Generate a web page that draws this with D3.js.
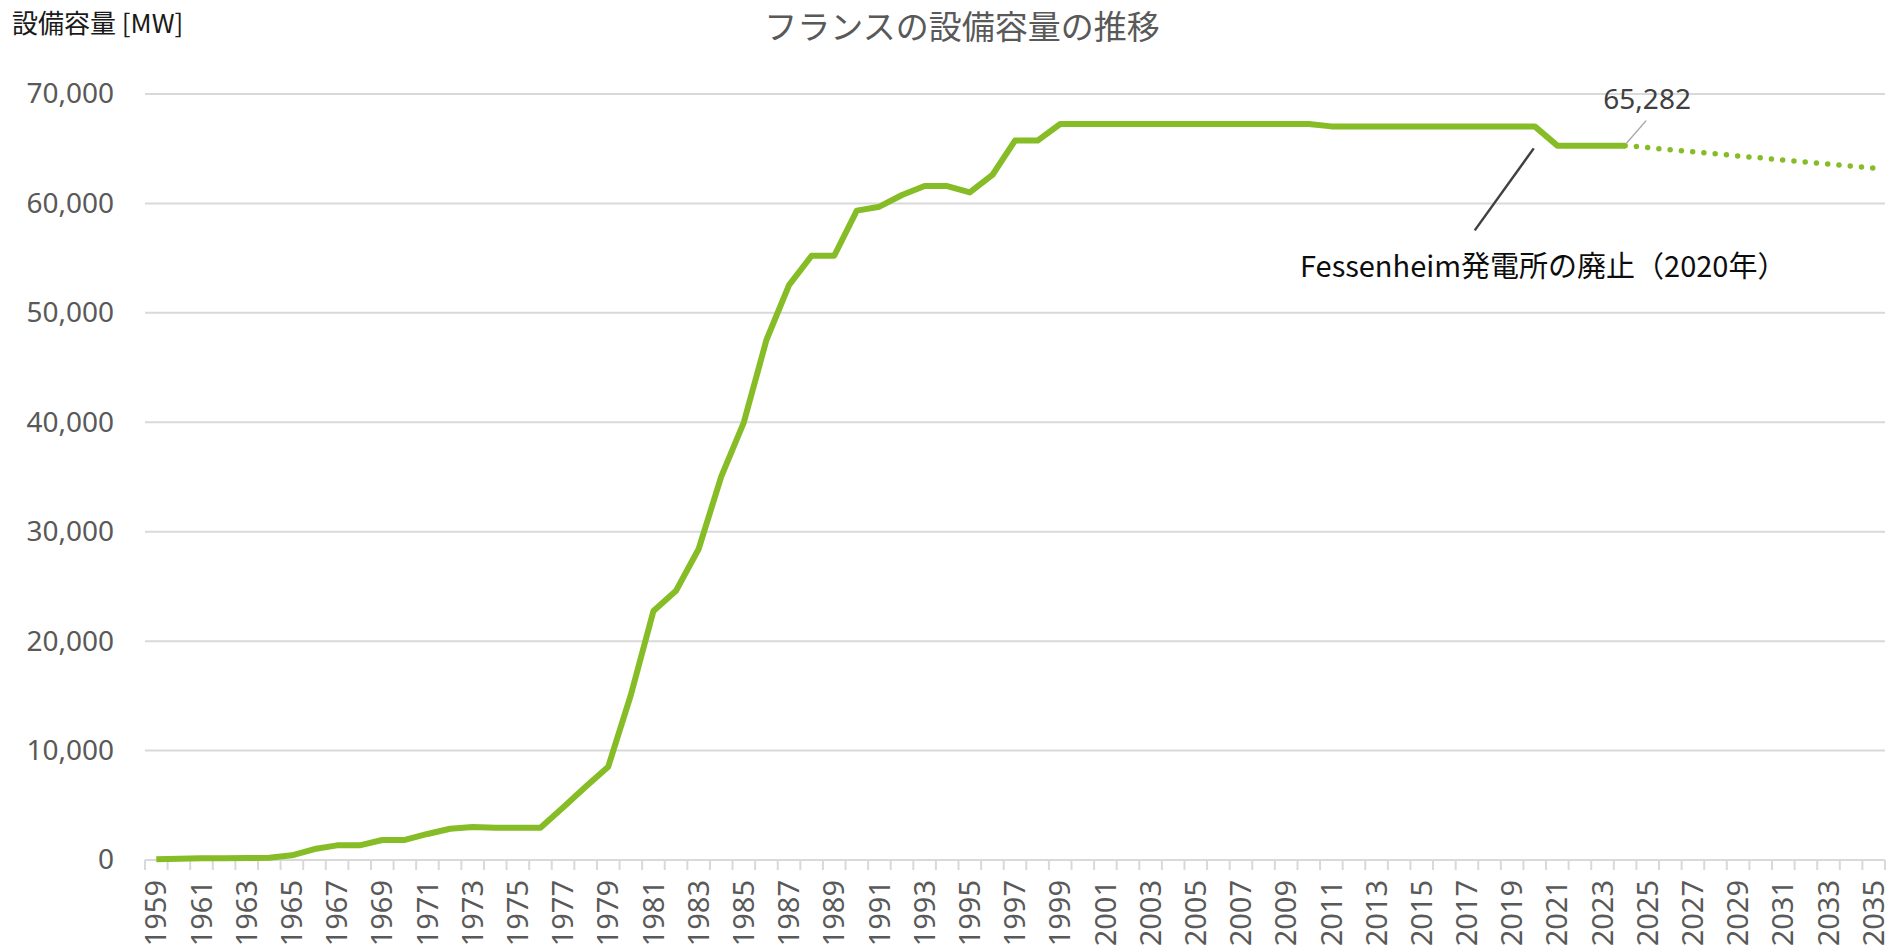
<!DOCTYPE html>
<html>
<head>
<meta charset="utf-8">
<script src="https://cdn.jsdelivr.net/npm/d3@7"></script>
<style>
  body { margin: 0; background: #fff; }
  text { font-family: "Noto Sans", "Noto Sans CJK JP", sans-serif; }
  .jp { font-family: "Noto Sans CJK JP", "Noto Sans", sans-serif; }
</style>
</head>
<body>
<svg id="chart"></svg>
<script>
//chart variables
var width = 1888;
var height = 945;
var margin = {top: 94, right: 3, bottom: 85, left: 145};

//categories: every year on the x axis
var years = d3.range(1959, 2036);

//installed capacity [MW], 1959 - 2024 (solid line)
var capacity = [70, 110, 150, 150, 180, 210, 430, 1000, 1340, 1340,
  1830, 1830, 2380, 2860, 3020, 2950, 2950, 2950, 4800, 6700,
  8530, 15080, 22750, 24610, 28420, 35030, 40000, 47520, 52540, 55220,
  55220, 59340, 59700, 60770, 61590, 61590, 61010, 62600, 65740, 65740,
  67260, 67260, 67260, 67260, 67260, 67260, 67260, 67260, 67260, 67260,
  67260, 67260, 67040, 67040, 67040, 67040, 67040, 67040, 67040, 67040,
  67040, 67040, 65282, 65282, 65282, 65282];

//projection 2024 - 2035 (dotted line)
var projYears = d3.range(2024, 2036);
var projection = [65282, 65100, 64900, 64710, 64530, 64340, 64160, 63970, 63790, 63600, 63420, 63230];

var yTicks = [0, 10000, 20000, 30000, 40000, 50000, 60000, 70000];
var xLabelYears = years.filter(function(d) { return (d - 1959) % 2 == 0; });

var title = "フランスの設備容量の推移";
var yTitle = "設備容量 [MW]";
var noteText = "Fessenheim発電所の廃止（2020年）";
var noteYear = 2020;
var lastYear = 2024;

var green = "#86bc25";

var svg = d3.select("#chart")
    .attr("width", width)
    .attr("height", height);

var x = d3.scaleBand()
    .domain(years)
    .range([margin.left, width - margin.right])
    .padding(0);

var y = d3.scaleLinear()
    .domain([0, 70000])
    .range([height - margin.bottom, margin.top]);

function cx(year) { return x(year) + x.bandwidth() / 2; }

//gridlines
svg.append("g")
  .selectAll("line")
  .data(yTicks)
  .enter().append("line")
    .attr("x1", margin.left)
    .attr("x2", width - margin.right)
    .attr("y1", function(d) { return y(d); })
    .attr("y2", function(d) { return y(d); })
    .style("stroke", "#d9d9d9")
    .style("stroke-width", 2);

//y axis labels
var yAxis = d3.axisLeft(y)
    .tickValues(yTicks)
    .tickSize(0)
    .tickPadding(0)
    .tickFormat(d3.format(","));

svg.append("g")
    .attr("transform", "translate(114,0)")
    .call(yAxis)
    .call(function(g) { g.select(".domain").remove(); })
    .selectAll("text")
      .style("font-size", "28px")
      .style("fill", "#595959");

//tick marks between categories
svg.append("g")
  .selectAll("line")
  .data(years.concat(["end"]))
  .enter().append("line")
    .attr("x1", function(d) { return d == "end" ? x.range()[1] : x(d); })
    .attr("x2", function(d) { return d == "end" ? x.range()[1] : x(d); })
    .attr("y1", y(0))
    .attr("y2", y(0) + 10)
    .style("stroke", "#d9d9d9")
    .style("stroke-width", 2);

//x axis labels (every other year, rotated)
var xAxis = d3.axisBottom(x)
    .tickValues(xLabelYears)
    .tickSize(0)
    .tickPadding(0);

svg.append("g")
    .attr("transform", "translate(0," + y(0) + ")")
    .call(xAxis)
    .call(function(g) { g.select(".domain").remove(); })
    .selectAll("text")
      .attr("transform", "rotate(-90)")
      .attr("x", -20)
      .attr("y", 0)
      .attr("dy", "0.35em")
      .style("text-anchor", "end")
      .style("font-size", "29px")
      .style("fill", "#595959");

//lines
var line = d3.line()
    .x(function(d) { return cx(d.year); })
    .y(function(d) { return y(d.value); });

var solidData = capacity.map(function(v, i) { return {year: years[i], value: v}; });
var projData = projection.map(function(v, i) { return {year: projYears[i], value: v}; });

svg.append("path")
    .datum(projData)
    .attr("d", line)
    .style("fill", "none")
    .style("stroke", green)
    .style("stroke-width", 5.5)
    .style("stroke-linecap", "round")
    .style("stroke-dasharray", "0,11.3");

svg.append("path")
    .datum(solidData)
    .attr("d", line)
    .style("fill", "none")
    .style("stroke", green)
    .style("stroke-width", 6)
    .style("stroke-linejoin", "round");

//data label for the last value
var lastVal = capacity[capacity.length - 1];
svg.append("line")
    .attr("x1", cx(lastYear) + 1)
    .attr("y1", y(lastVal) - 2)
    .attr("x2", cx(lastYear) + 21)
    .attr("y2", y(lastVal) - 25)
    .style("stroke", "#a6a6a6")
    .style("stroke-width", 1.5);

svg.append("text")
    .attr("x", cx(lastYear) + 22)
    .attr("y", y(lastVal) - 46)
    .attr("dy", "0.35em")
    .style("text-anchor", "middle")
    .style("font-size", "28px")
    .style("fill", "#404040")
    .text(d3.format(",")(lastVal));

//annotation for Fessenheim closure
var noteVal = capacity[years.indexOf(noteYear)];
svg.append("line")
    .attr("x1", cx(noteYear) - 1)
    .attr("y1", y(noteVal) + 22)
    .attr("x2", cx(noteYear) - 60)
    .attr("y2", y(noteVal) + 104)
    .style("stroke", "#404040")
    .style("stroke-width", 2.5);

svg.append("text")
    .attr("class", "jp")
    .attr("x", 1300)
    .attr("y", 277)
    .style("font-size", "29px")
    .style("fill", "#0d0d0d")
    .text(noteText);

//titles
svg.append("text")
    .attr("class", "jp")
    .attr("x", 962)
    .attr("y", 39)
    .style("text-anchor", "middle")
    .style("font-size", "33px")
    .style("fill", "#595959")
    .text(title);

svg.append("text")
    .attr("class", "jp")
    .attr("x", 12)
    .attr("y", 33)
    .style("font-size", "26px")
    .style("fill", "#1a1a1a")
    .text(yTitle);
</script>
</body>
</html>
